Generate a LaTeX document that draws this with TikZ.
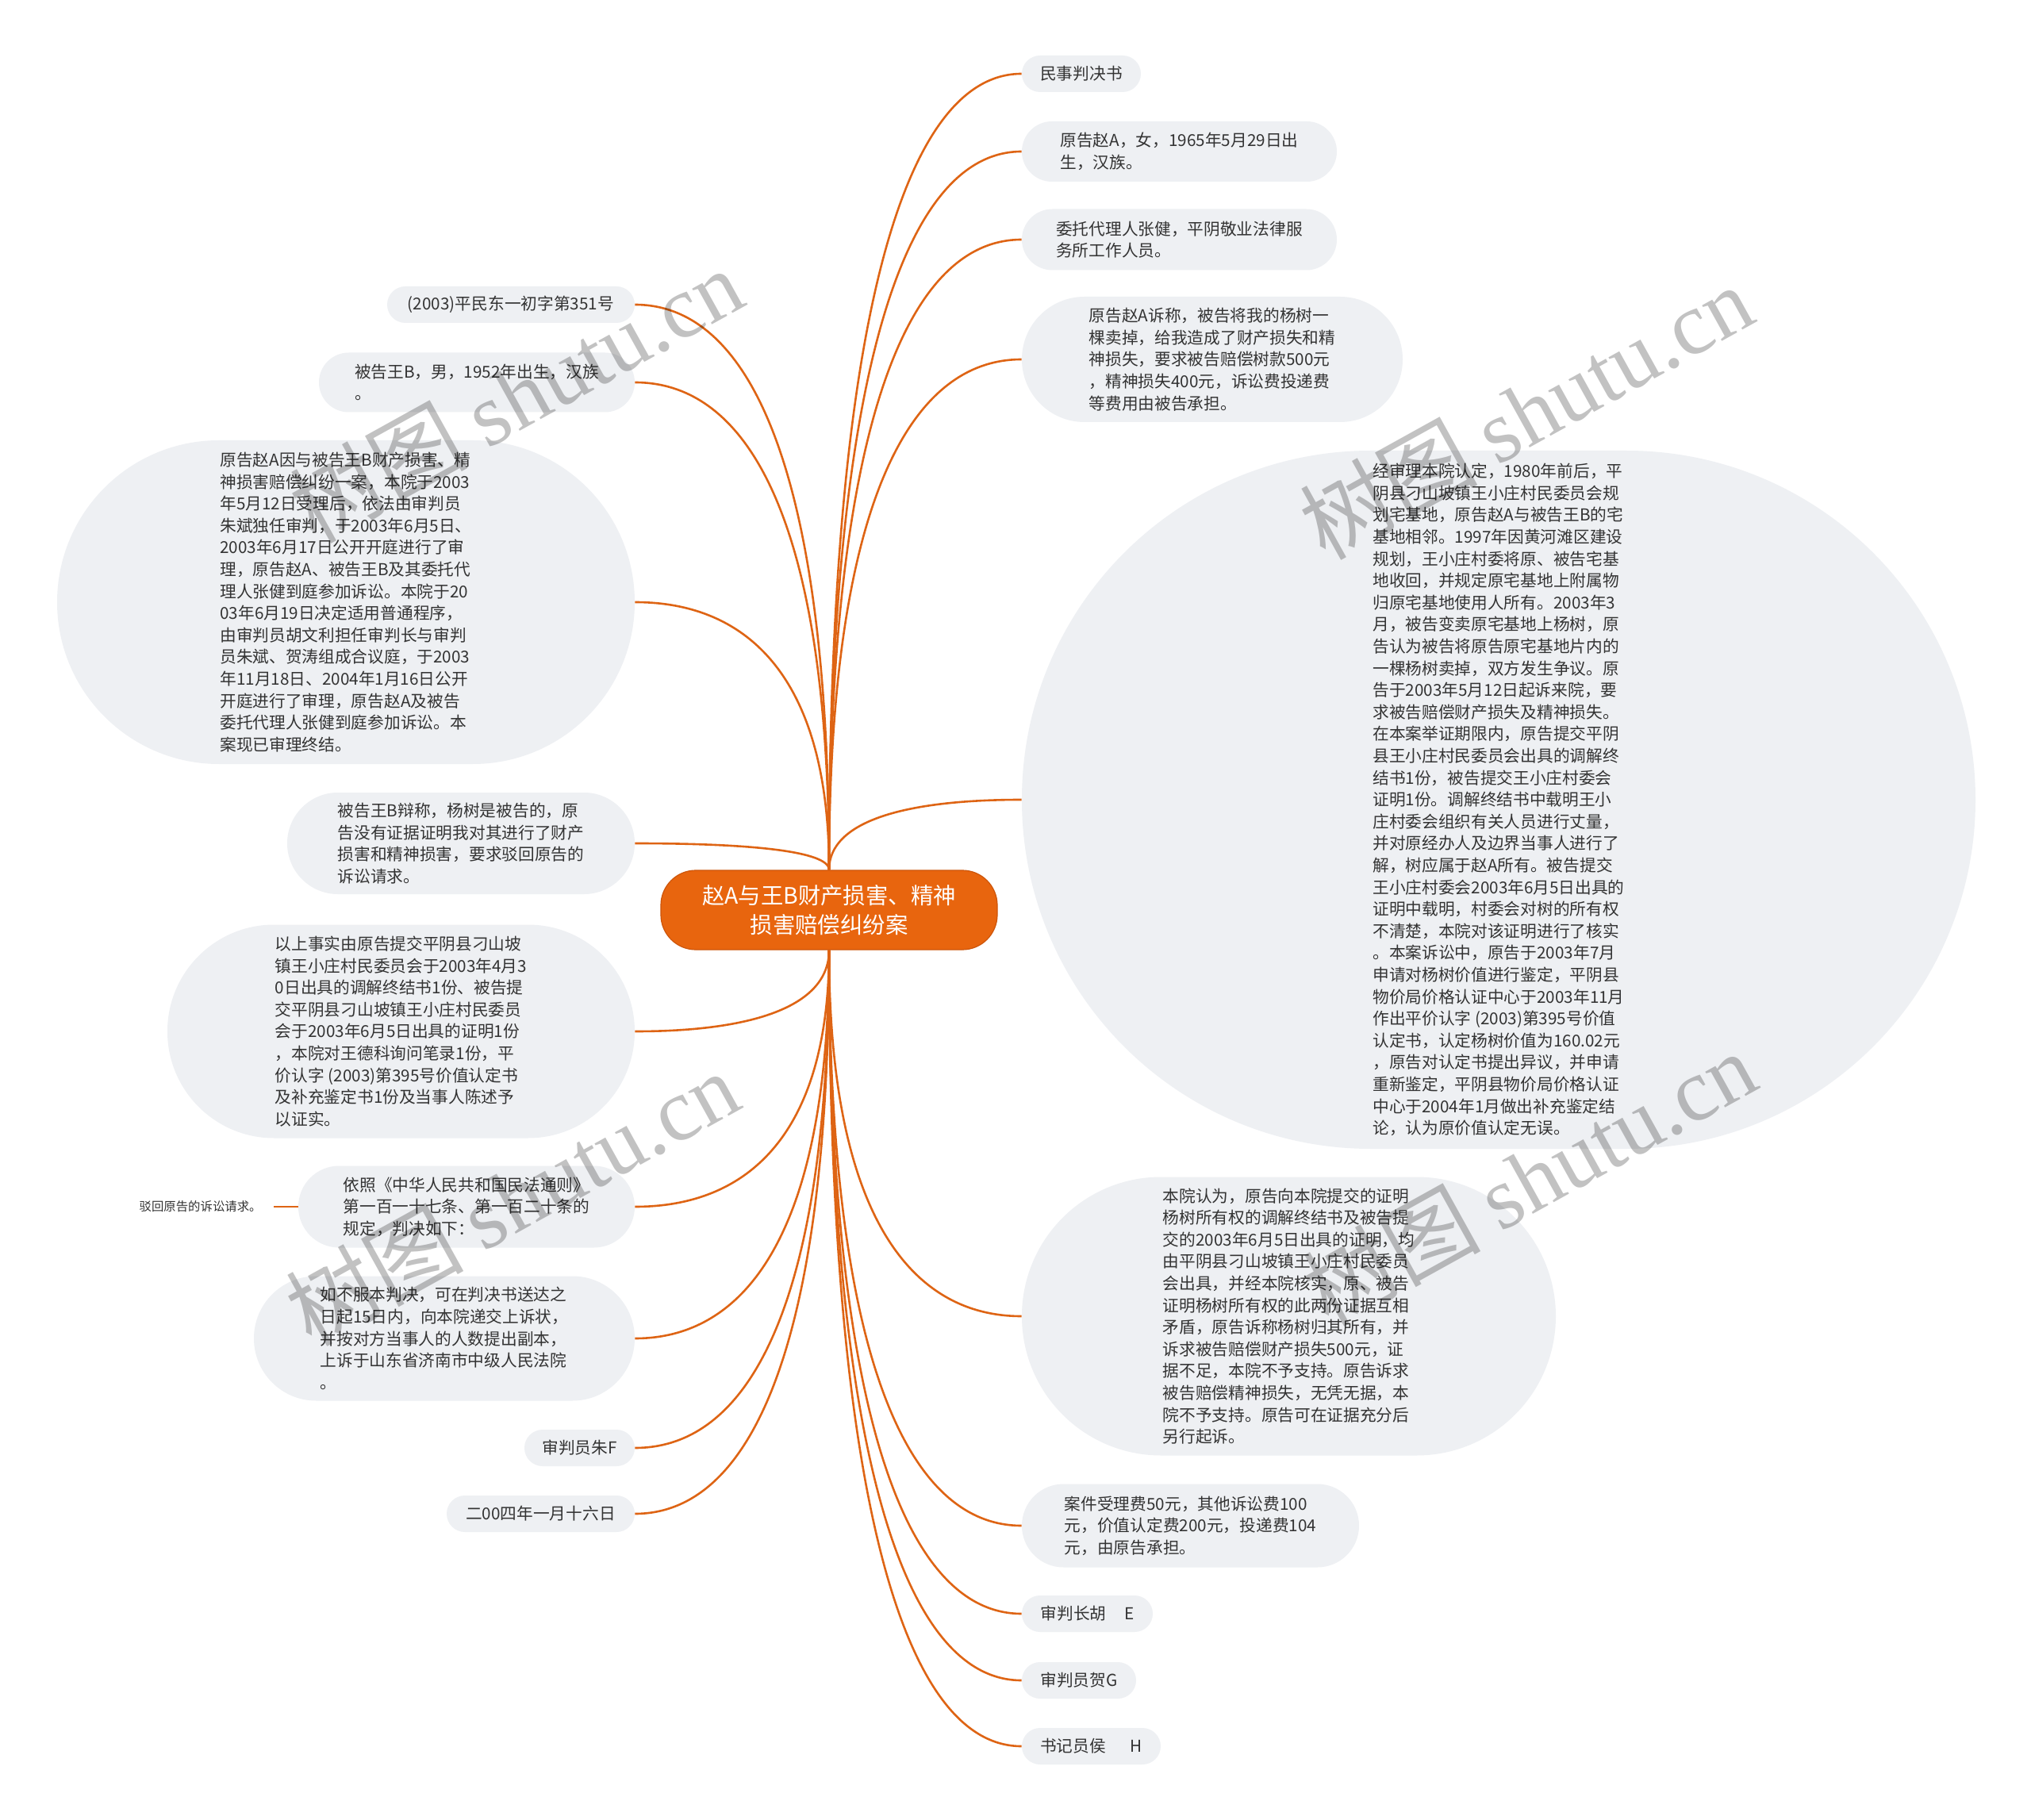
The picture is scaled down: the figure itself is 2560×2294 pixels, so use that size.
\documentclass[tikz,border=0pt]{standalone}
\usepackage{fontspec}
\setmainfont{Noto Sans CJK SC}
\newfontfamily\wmlat{Liberation Serif}
\usetikzlibrary{calc}
\definecolor{nodefill}{RGB}{238,240,243}
\definecolor{txtgray}{RGB}{51,51,51}
\definecolor{linkorange}{RGB}{222,100,20}
\definecolor{rootfill}{RGB}{232,101,14}
\definecolor{rootedge}{RGB}{205,85,10}
\newcommand\mmlink[2]{\draw[link] (#1) .. controls ($(#1)!0.7!(#1|-#2)$) and ($(#2)!0.6!(#1|-#2)$) .. (#2);}
\begin{document}
\begin{tikzpicture}[x=0.5pt,y=-0.5pt,
  every node/.style={font=\fontsize{10.35}{13.8}\selectfont, text=txtgray},
  topic/.style={fill=nodefill, inner sep=0pt, align=left},
  link/.style={draw=linkorange, line width=1.3pt},
  wmark/.style={rotate=29, font=\fontsize{56}{60}\selectfont, text=black, text opacity=0.24}
]
\fill[white] (0,0) rectangle (2560,2294);
\useasboundingbox (0,0) rectangle (2560,2294);

% root
\node[fill=rootfill, draw=rootedge, line width=0.6pt, rounded corners=22pt, minimum width=212pt, minimum height=50pt, inner sep=0pt, align=center, text=white, font=\fontsize{14.2}{18.7}\selectfont] (root) at (1045,1147) {赵A与王B财产损害、精神\\损害赔偿纠纷案};

% right side
\node[topic, minimum width=75pt, minimum height=23pt, rounded corners=11.5pt] (r1) at (1363,93) {民事判决书};
\node[topic, minimum width=198.5pt, minimum height=38pt, rounded corners=19pt] (r2) at (1486.5,191) {原告赵A，女，1965年5月29日出\\生，汉族。};
\node[topic, minimum width=198.5pt, minimum height=38.5pt, rounded corners=19.25pt] (r3) at (1486.5,302) {委托代理人张健，平阴敬业法律服\\务所工作人员。};
\node[topic, minimum width=240pt, minimum height=79pt, rounded corners=39.5pt] (r4) at (1528,453) {原告赵A诉称，被告将我的杨树一\\棵卖掉，给我造成了财产损失和精\\神损失，要求被告赔偿树款500元\\，精神损失400元，诉讼费投递费\\等费用由被告承担。};
\node[topic, minimum width=601pt, minimum height=440pt, rounded corners=220pt] (r5) at (1889,1008) {经审理本院认定，1980年前后，平\\%
阴县刁山坡镇王小庄村民委员会规\\%
划宅基地，原告赵A与被告王B的宅\\%
基地相邻。1997年因黄河滩区建设\\%
规划，王小庄村委将原、被告宅基\\%
地收回，并规定原宅基地上附属物\\%
归原宅基地使用人所有。2003年3\\%
月，被告变卖原宅基地上杨树，原\\%
告认为被告将原告原宅基地片内的\\%
一棵杨树卖掉，双方发生争议。原\\%
告于2003年5月12日起诉来院，要\\%
求被告赔偿财产损失及精神损失。\\%
在本案举证期限内，原告提交平阴\\%
县王小庄村民委员会出具的调解终\\%
结书1份，被告提交王小庄村委会\\%
证明1份。调解终结书中载明王小\\%
庄村委会组织有关人员进行丈量，\\%
并对原经办人及边界当事人进行了\\%
解，树应属于赵A所有。被告提交\\%
王小庄村委会2003年6月5日出具的\\%
证明中载明，村委会对树的所有权\\%
不清楚，本院对该证明进行了核实\\%
。本案诉讼中，原告于2003年7月\\%
申请对杨树价值进行鉴定，平阴县\\%
物价局价格认证中心于2003年11月\\%
作出平价认字 (2003)第395号价值\\%
认定书，认定杨树价值为160.02元\\%
，原告对认定书提出异议，并申请\\%
重新鉴定，平阴县物价局价格认证\\%
中心于2004年1月做出补充鉴定结\\%
论，认为原价值认定无误。};
\node[topic, minimum width=336.5pt, minimum height=175.5pt, rounded corners=87.75pt] (r6) at (1624.5,1659) {本院认为，原告向本院提交的证明\\%
杨树所有权的调解终结书及被告提\\%
交的2003年6月5日出具的证明，均\\%
由平阴县刁山坡镇王小庄村民委员\\%
会出具，并经本院核实，原、被告\\%
证明杨树所有权的此两份证据互相\\%
矛盾，原告诉称杨树归其所有，并\\%
诉求被告赔偿财产损失500元，证\\%
据不足，本院不予支持。原告诉求\\%
被告赔偿精神损失，无凭无据，本\\%
院不予支持。原告可在证据充分后\\%
另行起诉。};
\node[topic, minimum width=212.5pt, minimum height=52.5pt, rounded corners=26.25pt] (r7) at (1500.5,1923) {案件受理费50元，其他诉讼费100\\元，价值认定费200元，投递费104\\元，由原告承担。};
\node[topic, minimum width=82.5pt, minimum height=23pt, rounded corners=11.5pt] (r8) at (1370.5,2034) {审判长胡\hspace{1.1em}E};
\node[topic, minimum width=72pt, minimum height=23pt, rounded corners=11.5pt] (r9) at (1360,2118) {审判员贺G};
\node[topic, minimum width=87.5pt, minimum height=23pt, rounded corners=11.5pt] (r10) at (1375.5,2201) {书记员侯\hspace{1.5em}H};

% left side
\node[topic, minimum width=156pt, minimum height=23pt, rounded corners=11.5pt] (l1) at (644,384) {(2003)平民东一初字第351号};
\node[topic, minimum width=199pt, minimum height=37.5pt, rounded corners=18.75pt] (l2) at (601,482) {被告王B，男，1952年出生，汉族\\。};
\node[topic, minimum width=364pt, minimum height=204pt, rounded corners=102pt] (l3) at (436,759) {原告赵A因与被告王B财产损害、精\\%
神损害赔偿纠纷一案，本院于2003\\%
年5月12日受理后，依法由审判员\\%
朱斌独任审判，于2003年6月5日、\\%
2003年6月17日公开开庭进行了审\\%
理，原告赵A、被告王B及其委托代\\%
理人张健到庭参加诉讼。本院于20\\%
03年6月19日决定适用普通程序，\\%
由审判员胡文利担任审判长与审判\\%
员朱斌、贺涛组成合议庭，于2003\\%
年11月18日、2004年1月16日公开\\%
开庭进行了审理，原告赵A及被告\\%
委托代理人张健到庭参加诉讼。本\\%
案现已审理终结。};
\node[topic, minimum width=219pt, minimum height=64pt, rounded corners=32pt] (l4) at (581,1063) {被告王B辩称，杨树是被告的，原\\告没有证据证明我对其进行了财产\\损害和精神损害，要求驳回原告的\\诉讼请求。};
\node[topic, minimum width=294.5pt, minimum height=134.5pt, rounded corners=67.25pt] (l5) at (505.5,1300) {以上事实由原告提交平阴县刁山坡\\%
镇王小庄村民委员会于2003年4月3\\%
0日出具的调解终结书1份、被告提\\%
交平阴县刁山坡镇王小庄村民委员\\%
会于2003年6月5日出具的证明1份\\%
，本院对王德科询问笔录1份，平\\%
价认字 (2003)第395号价值认定书\\%
及补充鉴定书1份及当事人陈述予\\%
以证实。};
\node[topic, minimum width=212pt, minimum height=51.5pt, rounded corners=25.75pt] (l6) at (588,1521) {依照《中华人民共和国民法通则》\\第一百一十七条、第一百二十条的\\规定，判决如下：};
\node[topic, minimum width=240pt, minimum height=78.5pt, rounded corners=39.25pt] (l7) at (560,1687) {如不服本判决，可在判决书送达之\\日起15日内，向本院递交上诉状，\\并按对方当事人的人数提出副本，\\上诉于山东省济南市中级人民法院\\。};
\node[topic, minimum width=69.5pt, minimum height=23pt, rounded corners=11.5pt] (l8) at (730.5,1825) {审判员朱F};
\node[topic, minimum width=118.5pt, minimum height=23pt, rounded corners=11.5pt] (l9) at (681.5,1908) {二00四年一月十六日};
\node[anchor=east, inner xsep=7.5pt, inner ysep=0pt, font=\fontsize{7.7}{9}\selectfont] (leaf) at (345,1521) {驳回原告的诉讼请求。};

% connectors
\mmlink{root.north}{r1.west}
\mmlink{root.north}{r2.west}
\mmlink{root.north}{r3.west}
\mmlink{root.north}{r4.west}
\mmlink{root.north}{r5.west}
\mmlink{root.south}{r6.west}
\mmlink{root.south}{r7.west}
\mmlink{root.south}{r8.west}
\mmlink{root.south}{r9.west}
\mmlink{root.south}{r10.west}
\mmlink{root.north}{l1.east}
\mmlink{root.north}{l2.east}
\mmlink{root.north}{l3.east}
\mmlink{root.north}{l4.east}
\mmlink{root.south}{l5.east}
\mmlink{root.south}{l6.east}
\mmlink{root.south}{l7.east}
\mmlink{root.south}{l8.east}
\mmlink{root.south}{l9.east}
\draw[link] (leaf.east) -- (l6.west);

% watermarks
\node[wmark] (wm1) at (650,498) {树图 {\wmlat shutu.cn}};
\node[wmark] (wm2) at (1923,519) {树图 {\wmlat shutu.cn}};
\node[wmark] (wm3) at (645,1510) {树图 {\wmlat shutu.cn}};
\node[wmark] (wm4) at (1927,1485) {树图 {\wmlat shutu.cn}};
\end{tikzpicture}
\end{document}
